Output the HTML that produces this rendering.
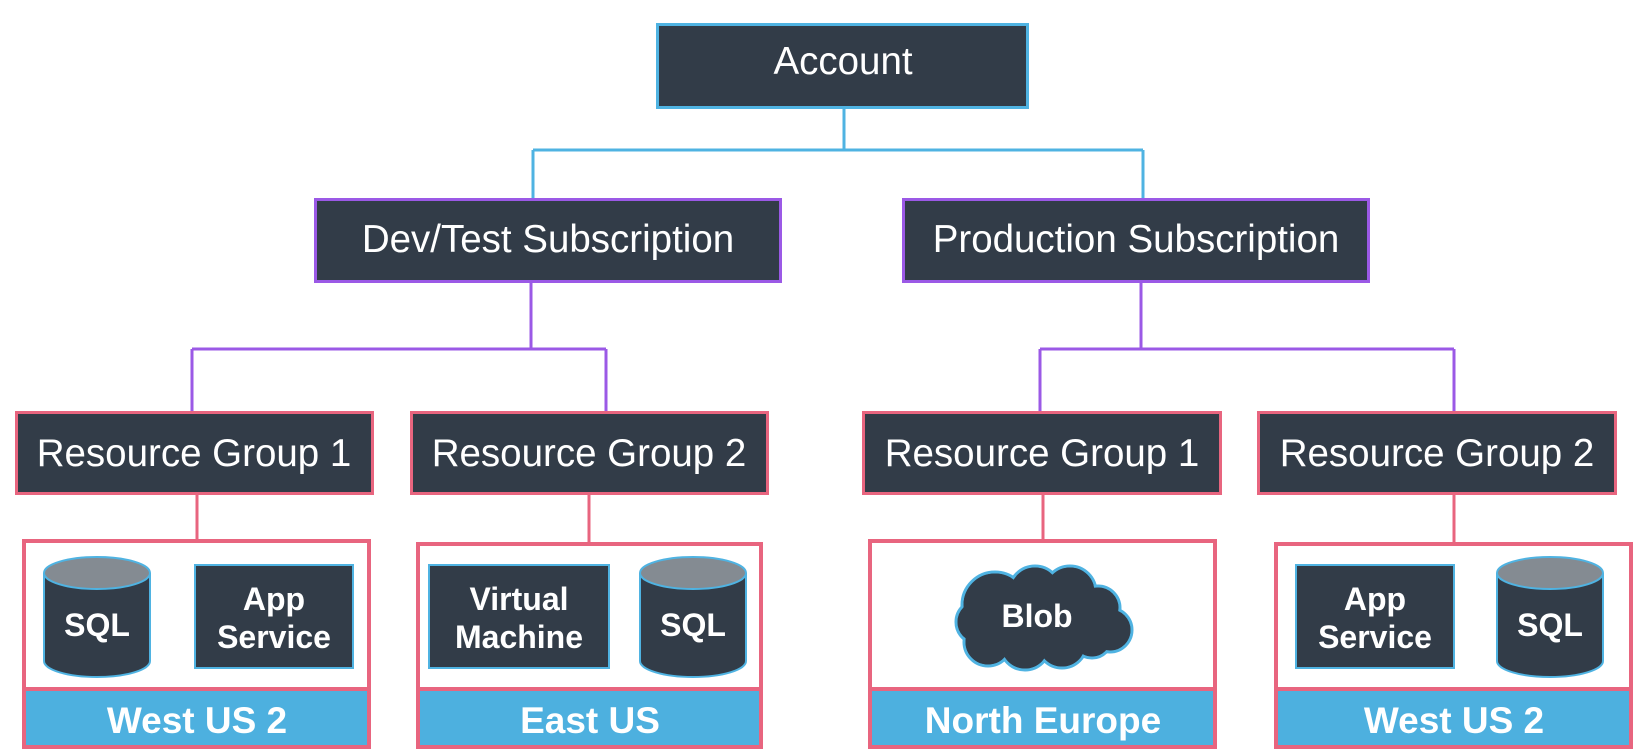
<!DOCTYPE html>
<html><head><meta charset="utf-8"><style>html,body{margin:0;padding:0;background:#fff}svg{display:block}</style></head>
<body>
<svg width="1652" height="754" viewBox="0 0 1652 754" xmlns="http://www.w3.org/2000/svg" font-family="Liberation Sans, sans-serif">
<g fill="none" stroke-width="3">
<path d="M844 108 V150 M533 150 H1143 M533 150 V198 M1143 150 V198" stroke="#4fb3e2"/>
<path d="M531 282 V349 M192 349 H606 M192 349 V411 M606 349 V411" stroke="#9b59e6"/>
<path d="M1141 282 V349 M1040 349 H1454 M1040 349 V411 M1454 349 V411" stroke="#9b59e6"/>
<path d="M197 494 V541 M589 494 V544 M1043 494 V541 M1454 494 V544" stroke="#e8657f"/>
</g>
<g fill="#323c48" stroke-width="3">
<rect x="657.5" y="24.5" width="370" height="83" stroke="#4fb3e2"/>
<rect x="315.5" y="199.5" width="465" height="82" stroke="#9b59e6"/>
<rect x="903.5" y="199.5" width="465" height="82" stroke="#9b59e6"/>
<rect x="16.5" y="412.5" width="356" height="81" stroke="#e8657f"/>
<rect x="411.5" y="412.5" width="356" height="81" stroke="#e8657f"/>
<rect x="863.5" y="412.5" width="357" height="81" stroke="#e8657f"/>
<rect x="1258.5" y="412.5" width="357" height="81" stroke="#e8657f"/>
</g>
<g fill="#fff" font-size="38.5" text-anchor="middle">
<text x="843" y="74">Account</text>
<text x="548" y="252">Dev/Test Subscription</text>
<text x="1136" y="252">Production Subscription</text>
<text x="194" y="466">Resource Group 1</text>
<text x="589" y="466">Resource Group 2</text>
<text x="1042" y="466">Resource Group 1</text>
<text x="1437" y="466">Resource Group 2</text>
</g>
<g stroke="#e8657f" stroke-width="4">
<rect x="24" y="541" width="345" height="206" fill="#fff"/>
<rect x="24" y="689" width="345" height="58" fill="#4db0df"/>
<rect x="418" y="544" width="343" height="203" fill="#fff"/>
<rect x="418" y="689" width="343" height="58" fill="#4db0df"/>
<rect x="870" y="541" width="345" height="206" fill="#fff"/>
<rect x="870" y="689" width="345" height="58" fill="#4db0df"/>
<rect x="1276" y="544" width="355" height="203" fill="#fff"/>
<rect x="1276" y="689" width="355" height="58" fill="#4db0df"/>
</g>
<g fill="#fff" font-size="37" font-weight="bold" text-anchor="middle">
<text x="197" y="733">West US 2</text>
<text x="590" y="733">East US</text>
<text x="1043" y="733">North Europe</text>
<text x="1454" y="733">West US 2</text>
</g>
<defs>
<g id="cyl">
<path d="M0 16 V104 A53 16 0 0 0 106 104 V16" fill="#323c48" stroke="#4fb3e2" stroke-width="2"/>
<ellipse cx="53" cy="16" rx="53" ry="16" fill="#848b92" stroke="#4fb3e2" stroke-width="2"/>
</g>
</defs>
<use href="#cyl" x="44" y="557"/>
<use href="#cyl" x="640" y="557"/>
<use href="#cyl" x="1497" y="557"/>
<g fill="#323c48" stroke="#4fb3e2" stroke-width="2">
<rect x="195" y="565" width="158" height="103"/>
<rect x="429" y="565" width="180" height="103"/>
<rect x="1296" y="565" width="158" height="103"/>
</g>
<g fill="#323c48" stroke="#4fb3e2" stroke-width="3">
<circle cx="995" cy="605" r="33"/><circle cx="1035" cy="592" r="26"/><circle cx="1070" cy="592" r="26"/><circle cx="1098" cy="608" r="22"/>
<circle cx="978" cy="622" r="22"/><circle cx="1110" cy="630" r="22"/><circle cx="988" cy="642" r="24"/><circle cx="1025" cy="645" r="25"/>
<circle cx="1062" cy="643" r="25"/><circle cx="1092" cy="638" r="20"/>
</g>
<g fill="#323c48">
<circle cx="995" cy="605" r="31.5"/><circle cx="1035" cy="592" r="24.5"/><circle cx="1070" cy="592" r="24.5"/><circle cx="1098" cy="608" r="20.5"/>
<circle cx="978" cy="622" r="20.5"/><circle cx="1110" cy="630" r="20.5"/><circle cx="988" cy="642" r="22.5"/><circle cx="1025" cy="645" r="23.5"/>
<circle cx="1062" cy="643" r="23.5"/><circle cx="1092" cy="638" r="18.5"/>
<rect x="985" y="595" width="115" height="50"/>
</g>
<g fill="#fff" font-size="32" font-weight="bold" text-anchor="middle">
<text x="97" y="636">SQL</text>
<text x="693" y="636">SQL</text>
<text x="1550" y="636">SQL</text>
<text x="274" y="610">App</text><text x="274" y="648">Service</text>
<text x="519" y="610">Virtual</text><text x="519" y="648">Machine</text>
<text x="1375" y="610">App</text><text x="1375" y="648">Service</text>
<text x="1037" y="627">Blob</text>
</g>
</svg>
</body></html>
